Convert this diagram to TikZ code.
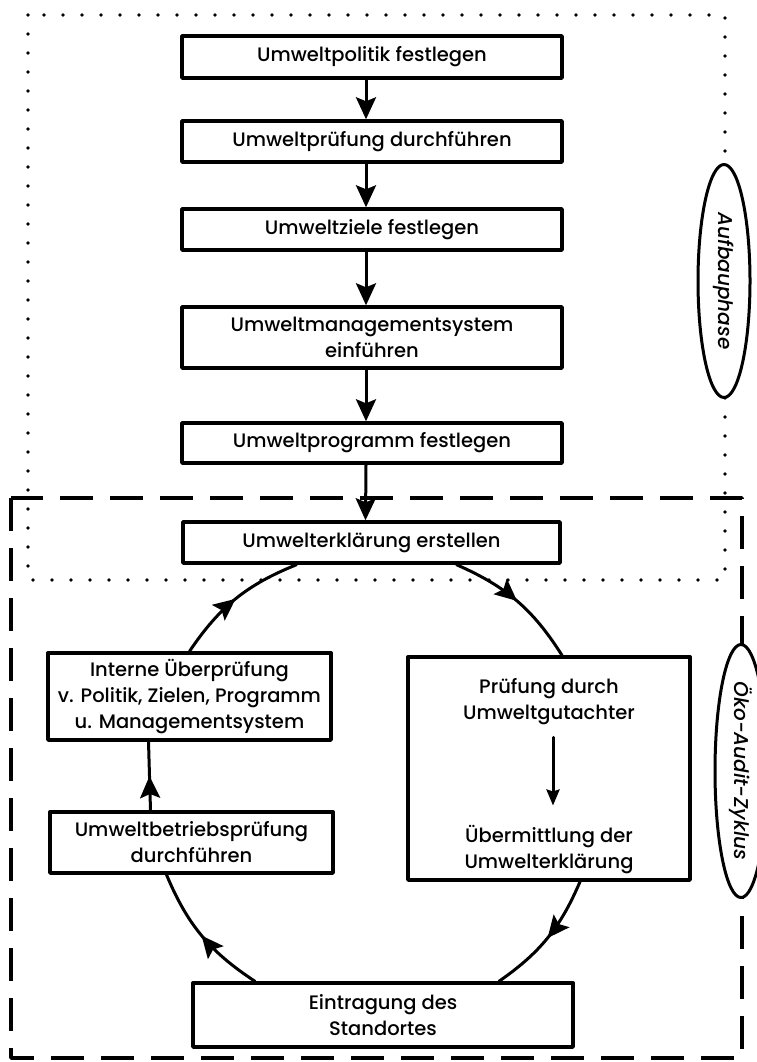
\documentclass[tikz,border=0pt]{standalone}
\usepackage{fontspec}
\setmainfont{Poppins Medium}[ItalicFont={Poppins Medium Italic}]
\usetikzlibrary{arrows.meta,decorations.markings,shapes.geometric}

\newcommand{\boxfont}{\fontsize{19.5}{26}\selectfont}
\newcommand{\phasefont}{\fontsize{20}{24}\selectfont\itshape}

\begin{document}
\begin{tikzpicture}[
			x=1pt,
			y=-1pt,
			>={Stealth[length=22pt,width=20pt,inset=4pt]},
			line cap=round,
			line join=round,
			box/.style={
				draw,
				line width=3.4pt,
				fill=white,
				inner sep=0pt,
				align=center,
				font=\boxfont
			},
			plain/.style={inner sep=0pt, align=center, font=\boxfont},
			phase/.style={
				draw,
				ellipse,
				line width=3pt,
				fill=white,
				inner sep=0pt,
				rotate=-90,
				font=\phasefont,
				minimum height=52pt
			},
			flow/.style={->, line width=3pt},
			midflow/.style={
				line width=3pt,
				postaction={decorate},
				decoration={
					markings,
					mark=at position 0.5 with {\arrow{>}}
				}
			},
			dotline/.style={line width=3.6pt, dash pattern=on 0pt off 19pt},
			dashline/.style={line width=3.6pt, line cap=butt, dash pattern=on 33pt off 17pt}
			]
			
			\useasboundingbox (0,0) rectangle (756,1062);
			
			% Rahmen
			\draw[dotline] (28,15) rectangle (725,580);
			\draw[dashline] (11,498) rectangle (742,1058);
			
			% Aufbauphase
			\node[box, minimum width=380pt, minimum height=42pt] (politik) at (372,57) {Umweltpolitik festlegen};
			\node[box, minimum width=380pt, minimum height=41pt] (pruefung) at (372,141.5) {Umweltprüfung durchführen};
			\node[box, minimum width=380pt, minimum height=41pt] (ziele) at (372,229.5) {Umweltziele festlegen};
			\node[box, minimum width=380pt, minimum height=61pt] (ums) at (372,337.5) {Umweltmanagementsystem\\einführen};
			\node[box, minimum width=380pt, minimum height=40pt] (programm) at (372,443) {Umweltprogramm festlegen};
			\node[box, minimum width=377pt, minimum height=41pt] (erklaerung) at (371.5,542.5) {Umwelterklärung erstellen};
			
			\draw[flow] ([xshift=-6pt]politik.south) -- ([xshift=-6pt]pruefung.north);
			\draw[flow] ([xshift=-6pt]pruefung.south) -- ([xshift=-6pt]ziele.north);
			\draw[flow] ([xshift=-6pt]ziele.south) -- ([xshift=-6pt]ums.north);
			\draw[flow] ([xshift=-6pt]ums.south) -- ([xshift=-6pt]programm.north);
			\draw[flow] ([xshift=-6pt]programm.south) -- ([xshift=-6pt]erklaerung.north);
			
			% Zyklus
			\node[box, minimum width=283pt, minimum height=87pt] (interne) at (189.5,696.5) {Interne Überprüfung\\v. Politik, Zielen, Programm\\u. Managementsystem};
			\node[box, minimum width=283pt, minimum height=61pt] (betrieb) at (191.5,842.5) {Umweltbetriebsprüfung\\durchführen};
			\node[box, minimum width=282pt, minimum height=223pt] (pruefbox) at (549,768.5) {};
			\node[plain] (gutachter) at (549,702) {Prüfung durch\\Umweltgutachter};
			\node[plain] (uebermittlung) at (549,850) {Übermittlung der\\Umwelterklärung};
			\node[box, minimum width=380pt, minimum height=64pt] (eintragung) at (383,1015) {Eintragung des\\Standortes};
			
			\draw[midflow] (interne.north) to[bend left=17] ([xshift=-75pt]erklaerung.south);
			\draw[midflow] ([xshift=85pt]erklaerung.south) to[bend left=17] ([xshift=13pt]pruefbox.north);
			\draw[midflow] ([xshift=31pt]pruefbox.south) to[bend left=16] ([xshift=116pt]eintragung.north);
			\draw[midflow] ([xshift=-128pt]eintragung.north) to[bend left=17] ([xshift=-25pt]betrieb.south);
			\draw[midflow] ([xshift=-41pt]betrieb.north) -- ([xshift=-41pt]interne.south);
			
			\draw[flow, -{Stealth[length=16pt,width=13pt,inset=2pt]}, shorten <=12pt, shorten >=20pt] ([xshift=4pt]gutachter.south) -- ([xshift=4pt]uebermittlung.north);
			
			% Phasen
			\node[phase, minimum width=233pt] (aufbau) at (724,281) {Aufbauphase};
			\node[phase, minimum width=228pt] (zyklus) at (741,771) {Öko-Audit-Zyklus};
			
		\end{tikzpicture}
\end{document}
